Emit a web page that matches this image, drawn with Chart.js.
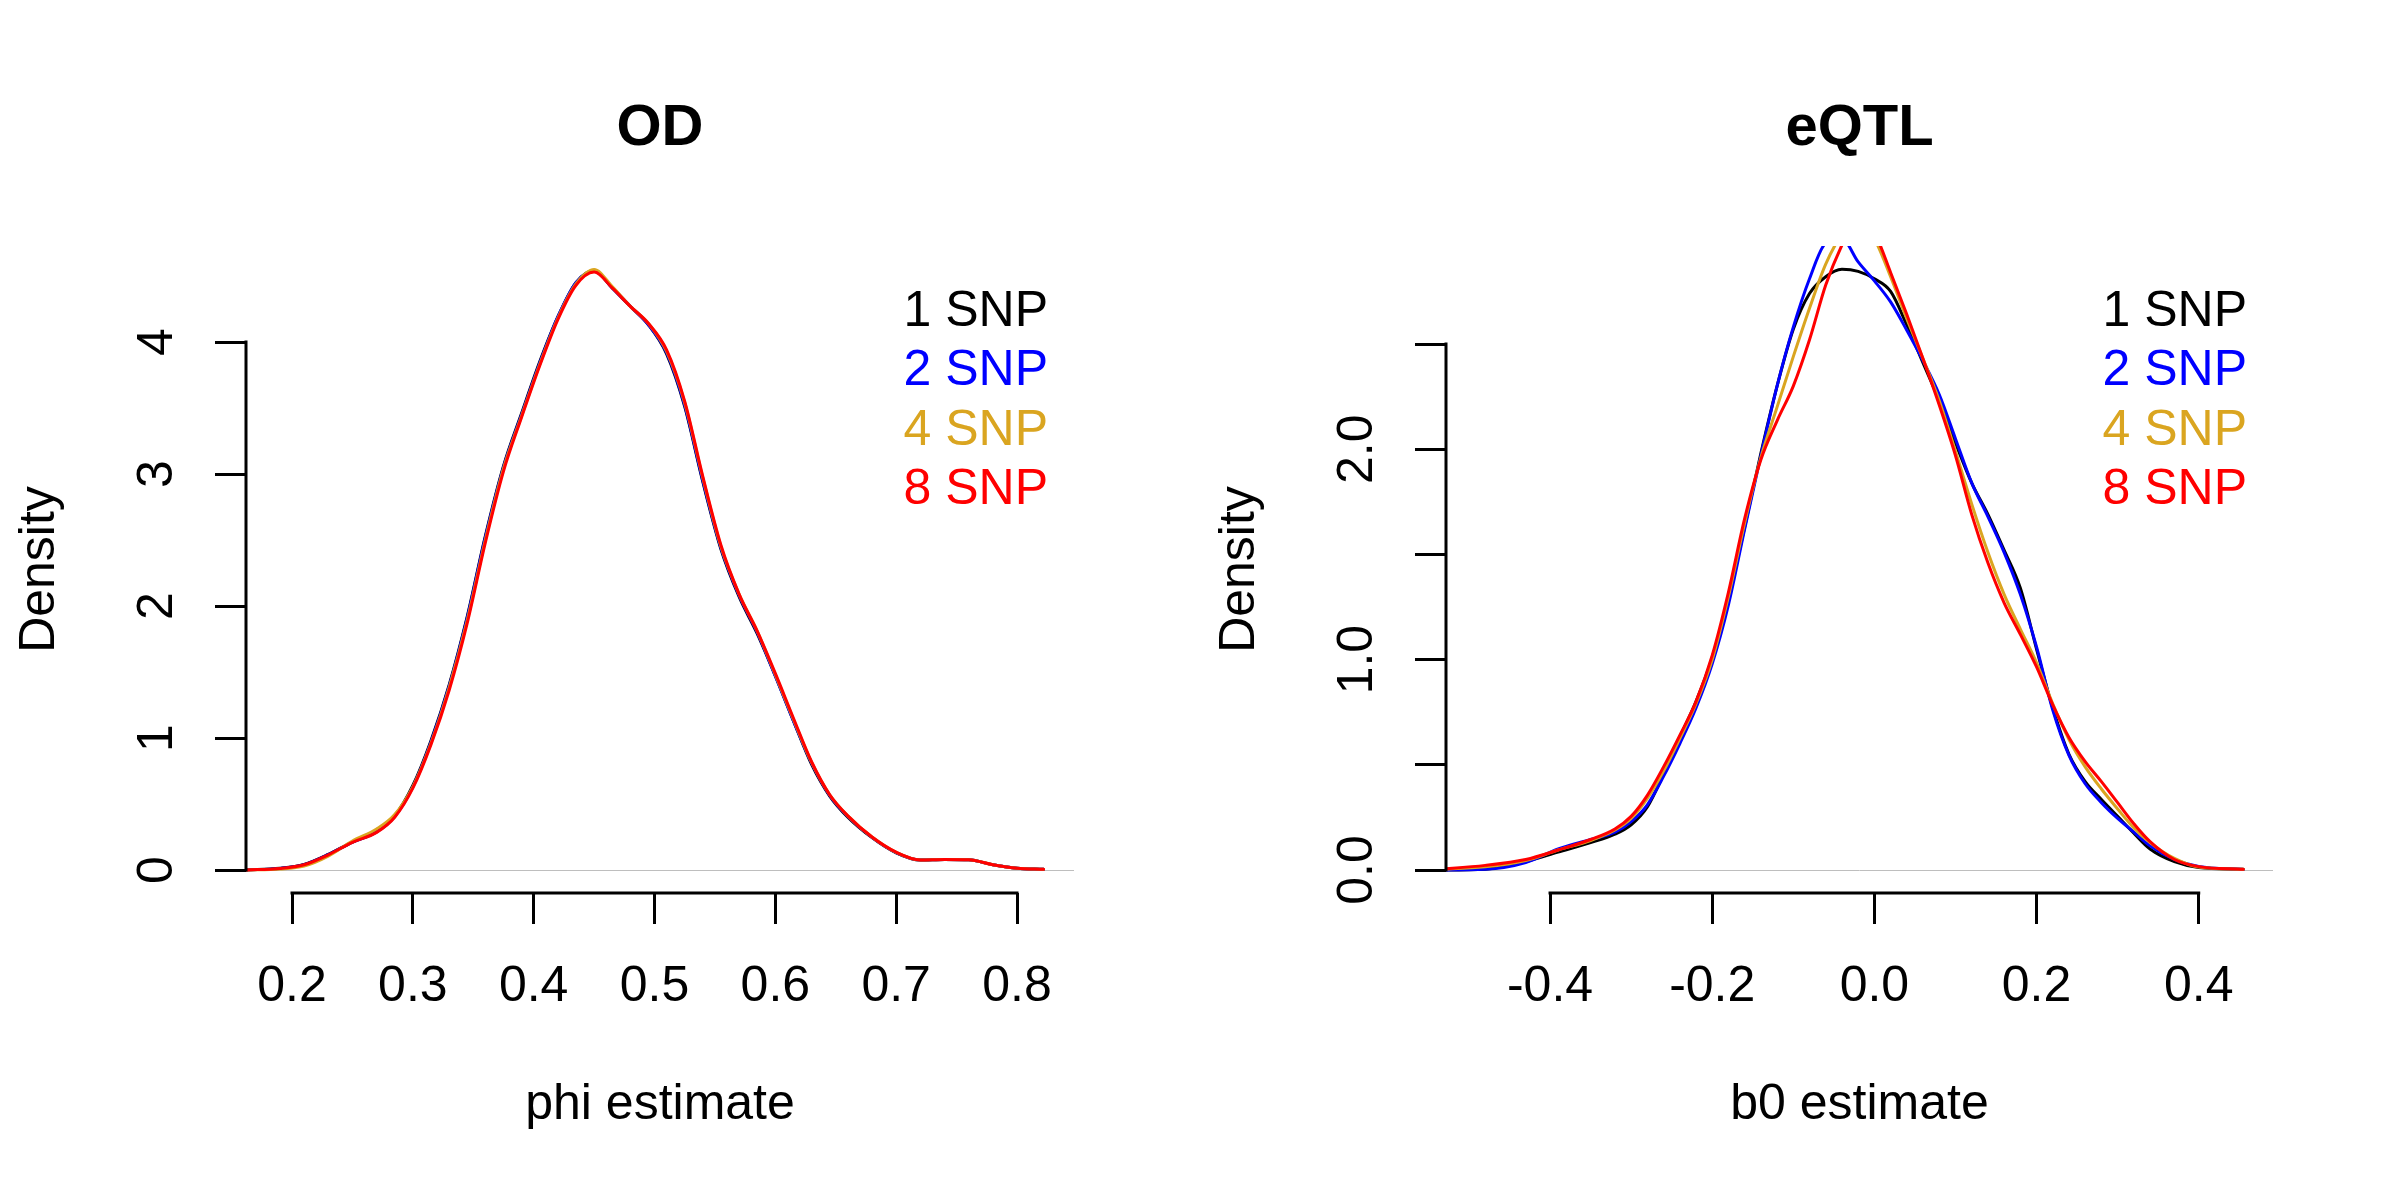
<!DOCTYPE html>
<html>
<head>
<meta charset="utf-8">
<title>OD / eQTL density</title>
<script src="https://cdn.jsdelivr.net/npm/chart.js@4.4.0/dist/chart.umd.min.js"></script>
<style>
  html, body { margin: 0; padding: 0; background: #fff; }
  #wrap { position: relative; width: 2400px; height: 1200px; }
  canvas { position: absolute; top: 0; }
  #od { left: 0; }
  #eqtl { left: 1200px; }
</style>
</head>
<body>
<div id="wrap">
  <canvas id="od" width="1200" height="1200"></canvas>
  <canvas id="eqtl" width="1200" height="1200"></canvas>
</div>
<script>
const FONT = "'Liberation Sans', Arial, sans-serif"

const snpLabels = ["1 SNP", "2 SNP", "4 SNP", "8 SNP"]
const snpColors = ["#000000", "#0000FF", "#DAA520", "#FF0000"]

// left panel: phi estimate
const odX = [0.162, 0.19, 0.21, 0.23, 0.25, 0.27, 0.285, 0.30, 0.315, 0.33, 0.345, 0.36, 0.375, 0.39, 0.405, 0.42, 0.435, 0.45, 0.465, 0.48,
             0.495, 0.51, 0.525, 0.54, 0.555, 0.57, 0.585, 0.60, 0.615, 0.63, 0.645, 0.66, 0.68, 0.70, 0.72, 0.74, 0.76, 0.78, 0.80, 0.822]
const odSnp1 = [0, 0.013, 0.042, 0.118, 0.212, 0.29, 0.41, 0.64, 0.98, 1.40, 1.92, 2.53, 3.06, 3.46, 3.85, 4.19, 4.45, 4.54, 4.41, 4.27,
                4.13, 3.91, 3.51, 2.94, 2.43, 2.07, 1.79, 1.47, 1.13, 0.80, 0.56, 0.40, 0.245, 0.13, 0.075, 0.08, 0.077, 0.04, 0.013, 0.005]
const odSnp2 = [0, 0.012, 0.041, 0.117, 0.211, 0.288, 0.405, 0.63, 0.97, 1.39, 1.91, 2.52, 3.05, 3.45, 3.84, 4.19, 4.45, 4.54, 4.41, 4.27,
                4.13, 3.92, 3.52, 2.95, 2.44, 2.08, 1.80, 1.47, 1.13, 0.81, 0.565, 0.405, 0.247, 0.132, 0.076, 0.08, 0.077, 0.04, 0.013, 0.005]
const odSnp4 = [0, 0.008, 0.03, 0.105, 0.22, 0.31, 0.42, 0.63, 0.96, 1.38, 1.89, 2.50, 3.04, 3.44, 3.83, 4.18, 4.44, 4.55, 4.42, 4.27,
                4.14, 3.93, 3.54, 2.97, 2.45, 2.09, 1.81, 1.48, 1.14, 0.815, 0.57, 0.41, 0.25, 0.134, 0.076, 0.08, 0.078, 0.04, 0.013, 0.005]
const odSnp8 = [0, 0.012, 0.04, 0.115, 0.21, 0.285, 0.40, 0.62, 0.95, 1.36, 1.87, 2.48, 3.02, 3.43, 3.82, 4.17, 4.43, 4.53, 4.41, 4.27,
                4.14, 3.94, 3.55, 2.98, 2.46, 2.09, 1.81, 1.49, 1.15, 0.82, 0.57, 0.41, 0.25, 0.135, 0.076, 0.08, 0.078, 0.04, 0.013, 0.005]
const odXTicks = [0.2, 0.3, 0.4, 0.5, 0.6, 0.7, 0.8]
const odXLabels = ["0.2", "0.3", "0.4", "0.5", "0.6", "0.7", "0.8"]
const odYTicks = [0, 1, 2, 3, 4]
const odYLabels = ["0", "1", "2", "3", "4"]

// right panel: b0 estimate
const eqX = [-0.54, -0.48, -0.43, -0.39, -0.35, -0.32, -0.30, -0.28, -0.26, -0.24, -0.22, -0.20, -0.18, -0.16, -0.14, -0.12, -0.10, -0.08, -0.06, -0.04,
             -0.02, 0.00, 0.02, 0.04, 0.06, 0.08, 0.10, 0.12, 0.14, 0.16, 0.18, 0.20, 0.22, 0.24, 0.26, 0.28, 0.30, 0.32, 0.34, 0.37, 0.40, 0.455]
const eqSnp1 = [0.0, 0.004, 0.04, 0.085, 0.13, 0.17, 0.215, 0.30, 0.455, 0.63, 0.80, 1.01, 1.29, 1.63, 1.98, 2.30, 2.57, 2.74, 2.82, 2.855,
                2.845, 2.81, 2.75, 2.59, 2.41, 2.23, 2.03, 1.84, 1.69, 1.52, 1.34, 1.05, 0.77, 0.55, 0.42, 0.335, 0.255, 0.175, 0.10, 0.04, 0.012, 0.003]
const eqSnp2 = [0.0, 0.003, 0.035, 0.10, 0.145, 0.18, 0.23, 0.31, 0.445, 0.60, 0.77, 0.98, 1.26, 1.62, 1.97, 2.30, 2.58, 2.81, 2.98, 3.00,
                2.89, 2.80, 2.70, 2.565, 2.42, 2.26, 2.05, 1.84, 1.68, 1.51, 1.31, 1.06, 0.76, 0.545, 0.41, 0.32, 0.245, 0.18, 0.115, 0.05, 0.017, 0.003]
const eqSnp4 = [0.002, 0.015, 0.045, 0.095, 0.14, 0.19, 0.245, 0.34, 0.47, 0.625, 0.79, 1.00, 1.30, 1.65, 1.96, 2.20, 2.44, 2.67, 2.88, 3.02,
                3.09, 3.00, 2.82, 2.62, 2.43, 2.23, 1.99, 1.74, 1.51, 1.31, 1.145, 0.985, 0.79, 0.62, 0.49, 0.385, 0.29, 0.20, 0.13, 0.055, 0.014, 0.003]
const eqSnp8 = [0.003, 0.022, 0.05, 0.095, 0.145, 0.195, 0.255, 0.355, 0.49, 0.64, 0.80, 1.02, 1.32, 1.67, 1.95, 2.135, 2.30, 2.52, 2.78, 2.97,
                3.11, 3.03, 2.84, 2.64, 2.43, 2.21, 1.97, 1.69, 1.46, 1.27, 1.12, 0.965, 0.785, 0.63, 0.515, 0.42, 0.32, 0.22, 0.135, 0.05, 0.016, 0.003]
const eqXTicks = [-0.4, -0.2, 0, 0.2, 0.4]
const eqXLabels = ["-0.4", "-0.2", "0.0", "0.2", "0.4"]
const eqYTicks = [0, 0.5, 1, 1.5, 2, 2.5]
const eqYLabels = ["0.0", "", "1.0", "", "2.0", ""]

Chart.defaults.font.family = FONT
Chart.defaults.color = '#000'

// R-like axes: line only spans the ticks, grey zero line, text legend
const rStyle = {
    id: 'rStyle',
    beforeDatasetsDraw(chart) {
        const { ctx, chartArea: a, scales: { y } } = chart
        const y0 = Math.round(y.getPixelForValue(0)) + 0.5
        ctx.save()
        ctx.strokeStyle = '#BEBEBE'
        ctx.lineWidth = 1
        ctx.beginPath()
        ctx.moveTo(a.left, y0)
        ctx.lineTo(a.right, y0)
        ctx.stroke()
        ctx.restore()
    },
    afterDraw(chart) {
        const { ctx, chartArea: a, scales: { x, y } } = chart
        const xt = x.ticks, yt = y.ticks
        ctx.save()
        ctx.strokeStyle = '#000'
        ctx.lineWidth = 3
        ctx.beginPath()
        ctx.moveTo(x.getPixelForValue(xt[0].value) - 1.5, a.bottom)
        ctx.lineTo(x.getPixelForValue(xt[xt.length - 1].value) + 1.5, a.bottom)
        ctx.moveTo(a.left, y.getPixelForValue(yt[0].value) + 1.5)
        ctx.lineTo(a.left, y.getPixelForValue(yt[yt.length - 1].value) - 1.5)
        ctx.stroke()

        ctx.font = '50px ' + FONT
        ctx.textAlign = 'right'
        ctx.textBaseline = 'alphabetic'
        snpLabels.forEach((t, i) => {
            ctx.fillStyle = snpColors[i]
            ctx.fillText(t, a.right - 26, a.top + 79.6 + i * 59.6)
        })
        ctx.restore()
    }
}

function densityPanel(id, p) {
    return new Chart(document.getElementById(id), {
        type: 'line',
        data: {
            datasets: p.series.map((s, i) => ({
                label: snpLabels[i],
                data: p.x.map((v, k) => ({ x: v, y: s[k] })),
                borderColor: snpColors[i],
                borderWidth: 3,
                pointRadius: 0,
                fill: false,
                cubicInterpolationMode: 'monotone',
                borderCapStyle: 'round',
                borderJoinStyle: 'round',
                order: 4 - i
            }))
        },
        options: {
            responsive: false,
            animation: false,
            devicePixelRatio: 1,
            layout: { padding: { left: 0, right: p.padRight, top: 0, bottom: 0 } },
            plugins: {
                legend: { display: false },
                tooltip: { enabled: false },
                title: {
                    display: true, fullSize: false, text: p.title, color: '#000',
                    font: { size: 58, weight: 'bold' },
                    padding: { top: 94, bottom: 82.4 }
                }
            },
            scales: {
                x: {
                    type: 'linear', bounds: 'data', min: p.xMin, max: p.xMax,
                    afterBuildTicks: s => { s.ticks = p.xTicks.map(v => ({ value: v })) },
                    afterFit: s => { s.height = 307 },
                    border: { display: false },
                    grid: { drawOnChartArea: false, drawTicks: true, tickLength: 31, color: '#000', lineWidth: 3 },
                    ticks: {
                        autoSkip: false, maxRotation: 0, padding: 33, color: '#000',
                        font: { size: 50 },
                        callback: (v, i) => p.xLabels[i]
                    },
                    title: { display: true, text: p.xTitle, color: '#000', font: { size: 50 }, padding: { top: 0, bottom: 65 } }
                },
                y: {
                    type: 'linear', bounds: 'data', min: p.yMin, max: p.yMax,
                    afterBuildTicks: s => { s.ticks = p.yTicks.map(v => ({ value: v })) },
                    afterFit: s => { s.width = 246 },
                    border: { display: false },
                    grid: { drawOnChartArea: false, drawTicks: true, tickLength: 31, color: '#000', lineWidth: 3 },
                    ticks: {
                        autoSkip: false, minRotation: 90, maxRotation: 90, crossAlign: 'center',
                        padding: p.yPad, color: '#000', font: { size: 50 },
                        callback: (v, i) => p.yLabels[i]
                    },
                    title: { display: true, text: 'Density', color: '#000', font: { size: 50 }, padding: { top: 10, bottom: 0 } }
                }
            }
        },
        plugins: [rStyle]
    })
}

densityPanel('od', {
    title: 'OD', xTitle: 'phi estimate',
    x: odX, series: [odSnp1, odSnp2, odSnp4, odSnp8],
    xMin: 0.16193, xMax: 0.84717, yMin: -0.1742, yMax: 4.7273,
    xTicks: odXTicks, xLabels: odXLabels, yTicks: odYTicks, yLabels: odYLabels,
    yPad: 43, padRight: 126
})

densityPanel('eqtl', {
    title: 'eQTL', xTitle: 'b0 estimate',
    x: eqX, series: [eqSnp1, eqSnp2, eqSnp4, eqSnp8],
    xMin: -0.5283, xMax: 0.4916, yMin: -0.1093, yMax: 2.9658,
    xTicks: eqXTicks, xLabels: eqXLabels, yTicks: eqYTicks, yLabels: eqYLabels,
    yPad: 22, padRight: 127
})
</script>
</body>
</html>
